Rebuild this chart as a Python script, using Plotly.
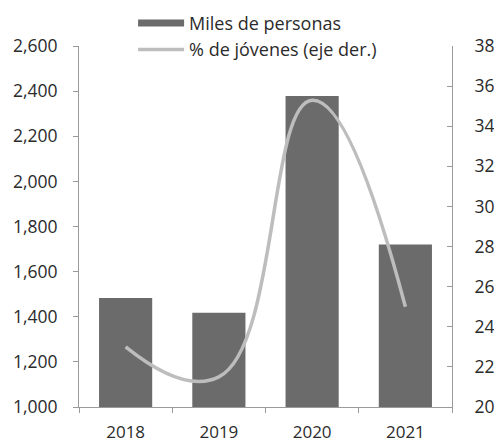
import plotly.graph_objects as go

years = ["2018", "2019", "2020", "2021"]
miles_personas = [1483, 1418, 2378, 1720]
pct_jovenes = [23.0, 21.5, 35.3, 25.0]

left_ticks = [1000, 1200, 1400, 1600, 1800, 2000, 2200, 2400, 2600]
right_ticks = [20, 22, 24, 26, 28, 30, 32, 34, 36, 38]

FONT = "Open Sans"
TXT = "#2b2b2b"
AX = "#9a9a9a"
BAR = "#6b6b6b"

fig = go.Figure()
fig.add_trace(go.Bar(
    x=years, y=miles_personas, name="Miles de personas",
    marker=dict(color=BAR, line=dict(width=0)),
    yaxis="y", showlegend=False,
))
# legend entry for the bars (wide flat swatch like the original)
fig.add_trace(go.Scatter(
    x=[None], y=[None], name="Miles de personas", mode="lines",
    line=dict(color=BAR, width=7), yaxis="y", showlegend=True,
))
fig.add_trace(go.Scatter(
    x=years, y=pct_jovenes, name="% de jóvenes (eje der.)",
    mode="lines",
    line=dict(color="#bdbdbd", width=3.5, shape="spline", smoothing=1.3),
    yaxis="y2",
))

fig.update_layout(
    width=494, height=444,
    margin=dict(l=79, r=42, t=46, b=37, autoexpand=False),
    paper_bgcolor="white", plot_bgcolor="white",
    font=dict(family=FONT, size=17, color=TXT),
    bargap=0.43,
    showlegend=True,
    legend=dict(
        x=0.145, y=1.114, xanchor="left", yanchor="top",
        bgcolor="rgba(0,0,0,0)", borderwidth=0,
        font=dict(family=FONT, size=18, color=TXT),
        tracegroupgap=0, itemwidth=46,
    ),
    xaxis=dict(
        type="category", tickson="boundaries", ticks="outside", ticklen=5,
        tickcolor=AX, showline=True, linecolor=AX, linewidth=1,
        showgrid=False, zeroline=False, ticklabelstandoff=10,
        tickfont=dict(family=FONT, size=17, color=TXT), automargin=False,
    ),
    yaxis=dict(
        range=[1000, 2600], tickvals=left_ticks, tickformat=",d",
        ticks="outside", ticklen=5, tickcolor=AX,
        showline=True, linecolor=AX, linewidth=1,
        showgrid=False, zeroline=False, ticklabelstandoff=12,
        tickfont=dict(family=FONT, size=17.5, color=TXT), automargin=False,
    ),
    yaxis2=dict(
        range=[20, 38], tickvals=right_ticks, overlaying="y", side="right",
        ticks="inside", ticklen=5, tickcolor=AX,
        showline=True, linecolor=AX, linewidth=1,
        showgrid=False, zeroline=False, ticklabelstandoff=18,
        tickfont=dict(family=FONT, size=17.5, color=TXT), automargin=False,
    ),
)

fig.write_html("out.html")
